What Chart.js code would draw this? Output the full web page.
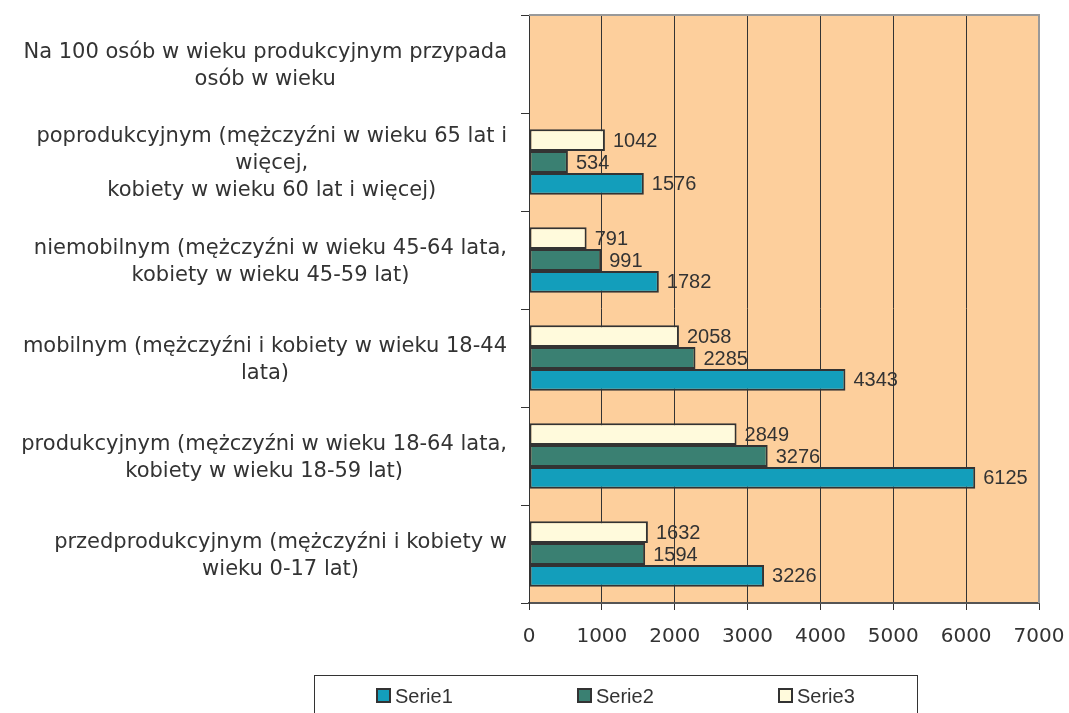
<!DOCTYPE html>
<html><head><meta charset="utf-8">
<script src="https://cdn.jsdelivr.net/npm/chart.js@4.4.0/dist/chart.umd.min.js"></script>
<style>html,body{margin:0;padding:0;background:#fff}#wrap{width:1069px;height:713px}</style>
</head><body><div id="wrap"><canvas id="c" width="1069" height="713"></canvas></div>
<script>
const categories = [
  ["Na 100 osób w wieku produkcyjnym przypada", "osób w wieku"],
  ["poprodukcyjnym (mężczyźni w wieku 65 lat i", "więcej,", "kobiety w wieku 60 lat i więcej)"],
  ["niemobilnym (mężczyźni w wieku 45-64 lata,", "kobiety w wieku 45-59 lat)"],
  ["mobilnym (mężczyźni i kobiety w wieku 18-44", "lata)"],
  ["produkcyjnym (mężczyźni w wieku 18-64 lata,", "kobiety w wieku 18-59 lat)"],
  ["przedprodukcyjnym (mężczyźni i kobiety w", "wieku 0-17 lat)"]
];
const seriesNames = ["Serie1", "Serie2", "Serie3"];
const serie1 = [null, 1576, 1782, 4343, 6125, 3226];
const serie2 = [null, 534, 991, 2285, 3276, 1594];
const serie3 = [null, 1042, 791, 2058, 2849, 1632];
const xTickValues = [0, 1000, 2000, 3000, 4000, 5000, 6000, 7000];

const colors = {Serie1: '#139EBB', Serie2: '#3A8072', Serie3: '#FFFADC'};
const TEXT = '#333333';

const bgPlugin = {
  id: 'bg',
  beforeDraw(chart) {
    const a = chart.chartArea, ctx = chart.ctx;
    ctx.save();
    ctx.fillStyle = '#FDCF9C';
    ctx.fillRect(a.left, a.top, a.right - a.left, a.bottom - a.top);
    ctx.restore();
  },
  afterDraw(chart) {
    const a = chart.chartArea, ctx = chart.ctx;
    ctx.save();
    ctx.strokeStyle = '#999999';
    ctx.lineWidth = 2;
    ctx.beginPath();
    ctx.moveTo(a.left, a.top);
    ctx.lineTo(a.right, a.top);
    ctx.lineTo(a.right, a.bottom);
    ctx.stroke();
    ctx.restore();
  }
};

const valueLabels = {
  id: 'valueLabels',
  afterDatasetsDraw(chart) {
    const ctx = chart.ctx;
    ctx.save();
    ctx.font = '20px "Liberation Sans", Arial, sans-serif';
    ctx.fillStyle = TEXT;
    ctx.textAlign = 'left';
    ctx.textBaseline = 'middle';
    chart.data.datasets.forEach((ds, i) => {
      const meta = chart.getDatasetMeta(i);
      meta.data.forEach((el, j) => {
        const v = ds.data[j];
        if (v === null || v === undefined) return;
        ctx.fillText(String(v), el.x + 8, el.y + 1);
      });
    });
    ctx.restore();
  }
};

const catLabels = {
  id: 'catLabels',
  afterDraw(chart) {
    const ctx = chart.ctx, ys = chart.scales.y;
    ctx.save();
    ctx.font = '21px "DejaVu Sans", Verdana, sans-serif';
    ctx.fillStyle = TEXT;
    ctx.textAlign = 'center';
    ctx.textBaseline = 'middle';
    const lineH = 27;
    const right = ys.right - 22;
    categories.forEach((lines, i) => {
      const y = ys.getPixelForTick(i);
      const w = Math.max(...lines.map(l => ctx.measureText(l).width));
      const cx = right - w / 2;
      const y0 = y - (lines.length - 1) * lineH / 2 + 2;
      lines.forEach((l, k) => ctx.fillText(l, cx, y0 + k * lineH));
    });
    ctx.restore();
  }
};

const boxLegend = {
  id: 'boxLegend',
  afterDraw(chart) {
    const ctx = chart.ctx;
    ctx.save();
    ctx.strokeStyle = '#333333';
    ctx.lineWidth = 1;
    ctx.strokeRect(314.5, 675.5, 603, 60);
    ctx.font = '20px "Liberation Sans", Arial, sans-serif';
    ctx.textAlign = 'left';
    ctx.textBaseline = 'middle';
    seriesNames.forEach((name, i) => {
      const x = 377 + i * 201;
      const ds = chart.data.datasets.find(d => d.label === name);
      ctx.fillStyle = ds.backgroundColor;
      ctx.fillRect(x, 689, 13, 13);
      ctx.strokeStyle = '#333333';
      ctx.lineWidth = 2;
      ctx.strokeRect(x, 689, 13, 13);
      ctx.fillStyle = TEXT;
      ctx.fillText(name, x + 18, 697);
    });
    ctx.restore();
  }
};

const dataSeries = {Serie1: serie1, Serie2: serie2, Serie3: serie3};
const order = ["Serie3", "Serie2", "Serie1"];

new Chart(document.getElementById('c'), {
  type: 'bar',
  data: {
    labels: categories,
    datasets: order.map(n => ({
      label: n,
      data: dataSeries[n],
      backgroundColor: colors[n],
      borderColor: '#333333',
      borderWidth: 2,
      borderSkipped: false,
      categoryPercentage: 0.67,
      barPercentage: 1.0
    }))
  },
  options: {
    indexAxis: 'y',
    responsive: false,
    animation: false,
    events: [],
    layout: {padding: {top: 15, right: 30, bottom: 49, left: 0}},
    plugins: {legend: {display: false}, tooltip: {enabled: false}},
    scales: {
      x: {
        type: 'linear',
        position: 'bottom',
        min: 0, max: 7000,
        afterBuildTicks(s) { s.ticks = xTickValues.map(v => ({value: v})); },
        afterFit(s) { s.paddingRight = 0; s.paddingLeft = 0; },
        ticks: {
          color: TEXT,
          font: {family: '"DejaVu Sans", Verdana, sans-serif', size: 20},
          padding: 15,
          maxRotation: 0,
          callback: v => String(v)
        },
        grid: {
          color: ctx => (ctx.tick && ctx.tick.value === 7000) ? 'rgba(0,0,0,0)' : '#333333',
          lineWidth: 1,
          tickLength: 7,
          tickColor: '#333333',
          tickWidth: 1
        },
        border: {color: '#555555', width: 2}
      },
      y: {
        type: 'category',
        afterFit(s) { s.width = 529; },
        ticks: {display: false},
        grid: {
          offset: true,
          drawOnChartArea: false,
          tickLength: 8,
          color: '#333333',
          tickColor: '#333333'
        },
        border: {color: '#333333', width: 1}
      }
    }
  },
  plugins: [bgPlugin, valueLabels, catLabels, boxLegend]
});
</script>
</body></html>
